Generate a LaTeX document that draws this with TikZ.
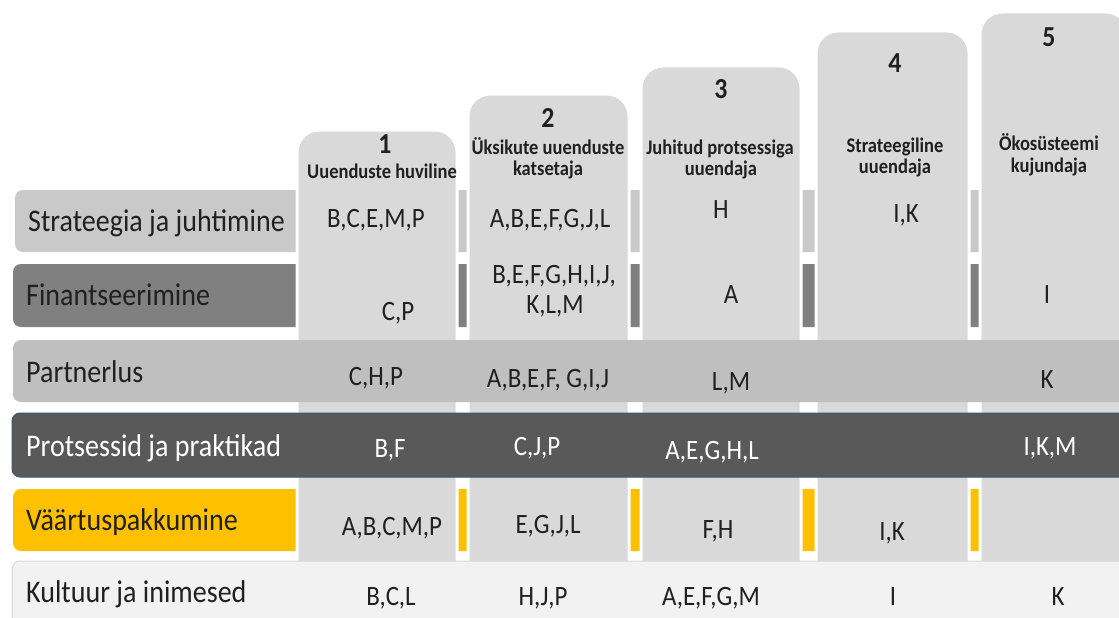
\documentclass[tikz,border=0pt]{standalone}
\usepackage{fontspec}
\setmainfont{Carlito}[FakeStretch=0.89]
\definecolor{rowA}{HTML}{C9C9C9}
\definecolor{rowB}{HTML}{808080}
\definecolor{rowC}{HTML}{BFBFBF}
\definecolor{rowD}{HTML}{595959}
\definecolor{rowDline}{HTML}{44546A}
\definecolor{rowE}{HTML}{FFC000}
\definecolor{rowF}{HTML}{F2F2F2}
\definecolor{rowFline}{HTML}{D9D9D9}
\definecolor{colfill}{HTML}{D9D9D9}
\definecolor{ink}{HTML}{202020}
\begin{document}
\begin{tikzpicture}[x=1pt,y=-1pt,
  band/.style={rounded corners=8},
  colbox/.style={fill=colfill, draw=white, line width=3pt, rounded corners=22},
  lab/.style={anchor=base west, inner sep=0pt, text=ink, font=\fontsize{31.5}{34}\selectfont},
  cell/.style={anchor=base, inner sep=0pt, text=ink, font=\fontsize{28}{30}\selectfont},
  wcell/.style={cell, text=white},
  hdnum/.style={anchor=base, inner sep=0pt, text=ink, font=\bfseries\fontsize{29}{32}\selectfont},
  hdtxt/.style={anchor=base, inner sep=0pt, text=ink, font=\bfseries\fontsize{20.8}{24}\selectfont}]
\useasboundingbox (0,0) rectangle (1119,618);
\clip (0,0) rectangle (1119,618);
% rows behind the columns
\fill[rowA, band] (15,190) rectangle (1140,252);
\fill[rowB, band] (13,264) rectangle (1140,327);
\fill[rowE, band] (13,489) rectangle (1140,551);
% columns
\draw[colbox] (297,130) rectangle (457,600);
\draw[colbox] (468,94) rectangle (629,600);
\draw[colbox] (641,66) rectangle (801,600);
\draw[colbox] (816,31) rectangle (969,600);
\draw[colbox] (980,12) rectangle (1128,600);
% rows in front of the columns
\fill[rowC, band] (13,340) rectangle (1140,402);
\draw[rowDline, fill=rowD, band, line width=1pt] (12,413) rectangle (1140,477);
\draw[rowFline, fill=rowF, band, line width=1pt] (12,561) rectangle (1140,640);
% headers
\node[hdnum] (n1) at (385,153) {1};
\node[hdtxt] (t1) at (382,178) {Uuenduste huviline};
\node[hdnum] (n2) at (548,127) {2};
\node[hdtxt] (t2a) at (548,154) {Üksikute uuenduste};
\node[hdtxt] (t2b) at (548,175) {katsetaja};
\node[hdnum] (n3) at (721,98) {3};
\node[hdtxt] (t3a) at (720,154) {Juhitud protsessiga};
\node[hdtxt] (t3b) at (721,175) {uuendaja};
\node[hdnum] (n4) at (895,73) {4};
\node[hdtxt] (t4a) at (895,152) {Strateegiline};
\node[hdtxt] (t4b) at (895,173) {uuendaja};
\node[hdnum] (n5) at (1049,47) {5};
\node[hdtxt] (t5a) at (1049,150) {Ökosüsteemi};
\node[hdtxt] (t5b) at (1049,172) {kujundaja};
% row labels
\node[lab] (r1) at (28,231) {Strateegia ja juhtimine};
\node[lab] (r2) at (26,305) {Finantseerimine};
\node[lab] (r3) at (26,382) {Partnerlus};
\node[lab, text=white] (r4) at (26,456) {Protsessid ja praktikad};
\node[lab] (r5) at (26,530) {Väärtuspakkumine};
\node[lab] (r6) at (26,602) {Kultuur ja inimesed};
% row 1
\node[cell] (c11) at (376,227) {B,C,E,M,P};
\node[cell] (c12) at (550,227) {A,B,E,F,G,J,L};
\node[cell] (c13) at (721,218) {H};
\node[cell] (c14) at (906,222) {I,K};
% row 2
\node[cell] (c21) at (398,320) {C,P};
\node[cell] (c22a) at (554,283) {B,E,F,G,H,I,J,};
\node[cell] (c22b) at (555,313) {K,L,M};
\node[cell] (c23) at (731,303) {A};
\node[cell] (c25) at (1047,303) {I};
% row 3
\node[cell] (c31) at (376,385) {C,H,P};
\node[cell] (c32) at (548,387) {A,B,E,F, G,I,J};
\node[cell] (c33) at (731,390) {L,M};
\node[cell] (c35) at (1047,388) {K};
% row 4
\node[wcell] (c41) at (390,457) {B,F};
\node[wcell] (c42) at (537,455) {C,J,P};
\node[wcell] (c43) at (712,459) {A,E,G,H,L};
\node[wcell] (c45) at (1050,455) {I,K,M};
% row 5
\node[cell] (c51) at (392,535) {A,B,C,M,P};
\node[cell] (c52) at (548,533) {E,G,J,L};
\node[cell] (c53) at (718,538) {F,H};
\node[cell] (c54) at (892,540) {I,K};
% row 6
\node[cell] (c61) at (391,605) {B,C,L};
\node[cell] (c62) at (543,605) {H,J,P};
\node[cell] (c63) at (711,605) {A,E,F,G,M};
\node[cell] (c64) at (893,605) {I};
\node[cell] (c65) at (1058,605) {K};
\end{tikzpicture}
\end{document}
